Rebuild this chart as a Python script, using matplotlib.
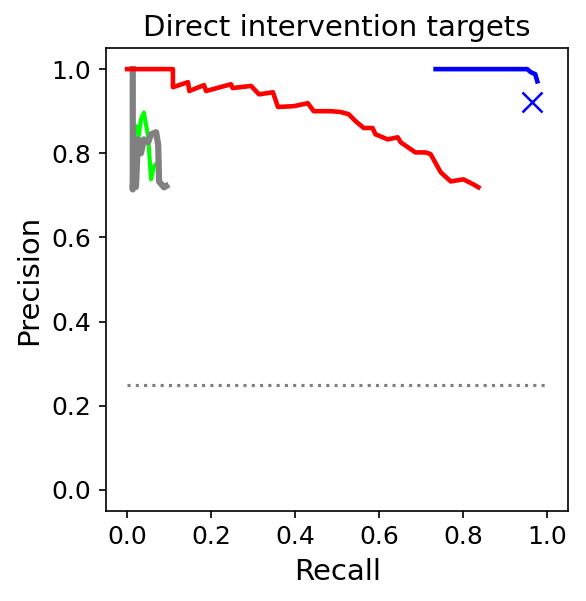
import matplotlib
matplotlib.use('Agg')
import matplotlib.pyplot as plt
import numpy as np

# red curve
red_recall = [0.0, 0.109, 0.109, 0.145, 0.148, 0.183, 0.188, 0.247, 0.251, 0.295, 0.314,
              0.347, 0.359, 0.397, 0.430, 0.444, 0.485, 0.508, 0.527, 0.544, 0.563,
              0.584, 0.591, 0.620, 0.644, 0.651, 0.686, 0.710, 0.722, 0.746, 0.770,
              0.800, 0.824, 0.836]
red_prec = [1.0, 1.0, 0.957, 0.969, 0.948, 0.962, 0.948, 0.964, 0.955, 0.960, 0.940,
            0.945, 0.910, 0.912, 0.919, 0.900, 0.900, 0.898, 0.893, 0.876, 0.860,
            0.860, 0.845, 0.833, 0.838, 0.826, 0.802, 0.802, 0.798, 0.755, 0.733,
            0.738, 0.726, 0.719]

# blue curve
blue_recall = [0.734, 0.952, 0.960, 0.971, 0.976]
blue_prec = [1.0, 1.0, 0.993, 0.988, 0.971]

# green curve
green_recall = [0.012, 0.016, 0.021, 0.026, 0.033, 0.040, 0.050, 0.057, 0.064, 0.076]
green_prec = [0.93, 0.80, 0.865, 0.83, 0.88, 0.897, 0.84, 0.738, 0.77, 0.78]

# gray curve
gray_recall = [0.0135, 0.0135, 0.017, 0.021, 0.026, 0.033, 0.040, 0.050, 0.057, 0.069,
               0.074, 0.076, 0.088, 0.093]
gray_prec = [1.0, 0.714, 0.80, 0.72, 0.833, 0.80, 0.833, 0.826, 0.845, 0.85,
             0.82, 0.733, 0.719, 0.722]

# single point and baseline
point_recall = 0.964
point_prec = 0.921
baseline = 0.25


def main():
    fig = plt.figure(figsize=(5.86 / 1.5, 6.01 / 1.5), dpi=150)
    ax = fig.add_axes([0.181, 0.150, 0.789, 0.770])

    ax.plot(green_recall, green_prec, color='lime', lw=2)
    ax.plot(gray_recall, gray_prec, color='gray', lw=3)
    ax.plot(red_recall, red_prec, color='red', lw=2.2)
    ax.plot(blue_recall, blue_prec, color='blue', lw=2.2)
    ax.plot([point_recall], [point_prec], 'x', color='blue', markersize=10, mew=1.2)
    ax.plot([0, 1], [baseline, baseline], ':', color='gray', lw=1.5)

    ax.set_xlim(-0.05, 1.05)
    ax.set_ylim(-0.05, 1.05)
    ax.set_xticks(np.arange(0, 1.01, 0.2))
    ax.set_yticks(np.arange(0, 1.01, 0.2))
    ax.tick_params(labelsize=12)
    ax.set_xlabel('Recall', fontsize=14)
    ax.set_ylabel('Precision', fontsize=14)
    ax.set_title('Direct intervention targets', fontsize=14)

    fig.savefig('out.png', dpi=150)


if __name__ == "__main__":
    main()
